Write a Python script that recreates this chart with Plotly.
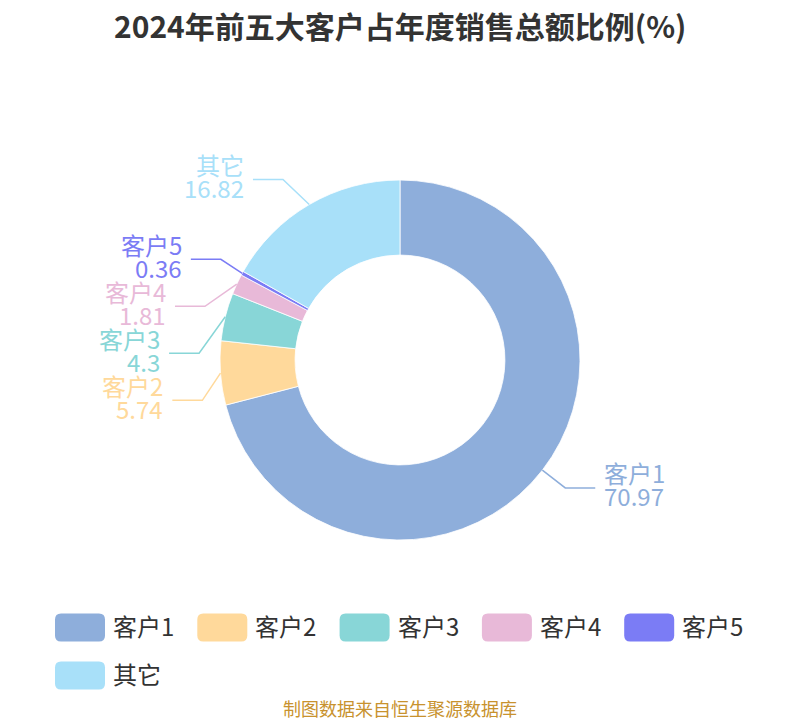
import math
import plotly.graph_objects as go

# ---- data ----
names = ["客户1", "客户2", "客户3", "客户4", "客户5", "其它"]
values = [70.97, 5.74, 4.3, 1.81, 0.36, 16.82]
value_labels = ["70.97", "5.74", "4.3", "1.81", "0.36", "16.82"]
colors = ["#8eaedb", "#ffd99b", "#88d6d7", "#e8b9d8", "#7b7cf5", "#a8e0f9"]
title_text = "2024年前五大客户占年度销售总额比例(%)"
source_text = "制图数据来自恒生聚源数据库"

PAGE_W, PAGE_H = 800, 720
OFF = 8                      # default body margin of the html page
W, H = PAGE_W - OFF, PAGE_H - OFF
CX, CY, R_OUT = 400, 360, 180   # page coordinates
HOLE = 0.583
FONT = "Noto Sans CJK SC"

fig = go.Figure()
fig.add_trace(go.Pie(
    labels=names, values=values, sort=False, direction="clockwise", rotation=0,
    hole=HOLE, textinfo="none", showlegend=False,
    marker=dict(colors=colors, line=dict(color="#ffffff", width=0.8)),
    domain=dict(x=[(CX - R_OUT - OFF) / W, (CX + R_OUT - OFF) / W],
                y=[1 - (CY + R_OUT - OFF) / H, 1 - (CY - R_OUT - OFF) / H]),
    hovertemplate="%{label}: %{value}<extra></extra>",
))

# invisible pixel-space axes (page coordinates) for labels / legend
fig.add_trace(go.Scatter(x=[OFF, PAGE_W], y=[OFF, PAGE_H], mode="markers",
                         marker=dict(opacity=0), hoverinfo="skip", showlegend=False))

# ---- label layout (echarts-like) ----
R1 = 209          # elbow radius
LEN2 = 30         # horizontal segment
LABEL_H = 47      # label block height
ELL_A, ELL_B = 201, 222
total = sum(values)
items = []
cum = 0.0
for i, v in enumerate(values):
    theta = 2 * math.pi * (cum + v / 2) / total
    cum += v
    dx, dy = math.sin(theta), -math.cos(theta)
    items.append(dict(i=i, p0=(CX + R_OUT * dx, CY + R_OUT * dy),
                      x=CX + R1 * dx, y=CY + R1 * dy, side=-1 if dx < 0 else 1))

for side in (-1, 1):
    lst = sorted([it for it in items if it["side"] == side], key=lambda t: t["y"])
    if len(lst) < 2:
        continue
    last = -1e9
    for it in lst:
        if it["y"] < last + LABEL_H:
            it["y"] = last + LABEL_H
        last = it["y"]
    for it in lst:
        ddy = it["y"] - CY
        it["x"] = CX + side * ELL_A * math.sqrt(max(0.0, 1 - ddy * ddy / ELL_B ** 2))

shapes = []
annotations = []
for it in items:
    i = it["i"]
    s = it["side"]
    x0, y0 = it["p0"]
    x1, y1 = it["x"], it["y"]
    x2 = x1 + s * LEN2
    shapes.append(dict(type="path", xref="x", yref="y", layer="above",
                       path=f"M{x0:.2f},{y0:.2f} L{x1:.2f},{y1:.2f} L{x2:.2f},{y1:.2f}",
                       line=dict(color=colors[i], width=1.5)))
    tx = x2 + s * 7
    anchor = "left" if s > 0 else "right"
    for txt, shift in ((names[i], 15), (value_labels[i], -8)):
        annotations.append(dict(x=tx, y=y1, xref="x", yref="y", text=txt, showarrow=False,
                                xanchor=anchor, yanchor="middle", yshift=shift,
                                font=dict(family=FONT, size=24, color=colors[i])))

# ---- custom legend ----
PER_ROW = 5
LX0, LPITCH, LY0, LROW = 55, 142.3, 627.5, 48
IW, IH, RAD = 50, 28, 6
for i, n in enumerate(names):
    col, row = i % PER_ROW, i // PER_ROW
    xl = LX0 + col * LPITCH
    yc = LY0 + row * LROW
    xa, xb, ya, yb = xl, xl + IW, yc - IH / 2, yc + IH / 2
    path = (f"M{xa+RAD},{ya} L{xb-RAD},{ya} Q{xb},{ya} {xb},{ya+RAD} "
            f"L{xb},{yb-RAD} Q{xb},{yb} {xb-RAD},{yb} L{xa+RAD},{yb} "
            f"Q{xa},{yb} {xa},{yb-RAD} L{xa},{ya+RAD} Q{xa},{ya} {xa+RAD},{ya} Z")
    shapes.append(dict(type="path", xref="x", yref="y", path=path,
                       fillcolor=colors[i], line=dict(width=0)))
    annotations.append(dict(x=xb + 6, y=yc, xref="x", yref="y", text=n, showarrow=False,
                            xanchor="left", yanchor="middle", yshift=2,
                            font=dict(family=FONT, size=24, color="#333333")))

annotations.append(dict(x=400, y=25, xref="x", yref="y", text=f"<b>{title_text}</b>",
                        showarrow=False, xanchor="center", yanchor="middle", borderpad=0,
                        font=dict(family=FONT, size=30, color="#333333")))
annotations.append(dict(x=400, y=708, xref="x", yref="y", text=source_text,
                        showarrow=False, xanchor="center", yanchor="middle", borderpad=0,
                        font=dict(family=FONT, size=18, color="#c8922e")))

fig.update_layout(
    width=W, height=H, margin=dict(l=0, r=0, t=0, b=0),
    paper_bgcolor="#ffffff", plot_bgcolor="rgba(0,0,0,0)",
    xaxis=dict(range=[OFF, PAGE_W], visible=False, fixedrange=True, domain=[0, 1]),
    yaxis=dict(range=[PAGE_H, OFF], visible=False, fixedrange=True, domain=[0, 1]),
    shapes=shapes, annotations=annotations, showlegend=False,
)

fig.write_html("out.html")
